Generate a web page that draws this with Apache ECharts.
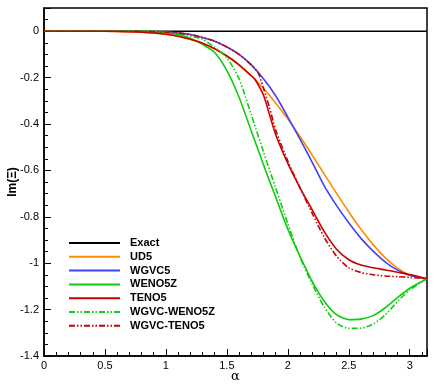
<!DOCTYPE html>
<html>
<head>
<meta charset="utf-8">
<script src="https://cdn.jsdelivr.net/npm/echarts@6/dist/echarts.min.js"></script>
<style>
  html, body { margin: 0; padding: 0; background: #fff; }
  #chart { width: 436px; height: 388px; }
</style>
</head>
<body>
<div id="chart"></div>
<script>
// wavenumber grid (alpha) shared by most schemes
const alpha = [0, 0.4, 0.6, 0.8, 1.0, 1.1, 1.2, 1.3, 1.4, 1.5, 1.6, 1.7, 1.8, 1.9, 2.0, 2.1, 2.2, 2.3, 2.4, 2.5, 2.6, 2.7, 2.8, 2.9, 3.0, 3.1416];

const exactX = [0, 3.1416];
const exactY = [0, 0];

const ud5 = [0, 0, -0.001, -0.004, -0.013, -0.022, -0.035, -0.052, -0.076, -0.107, -0.145, -0.192, -0.246, -0.309, -0.379, -0.454, -0.534, -0.617, -0.699, -0.779, -0.854, -0.920, -0.977, -1.021, -1.051, -1.067];
const wgvc5 = [0, 0, 0, -0.001, -0.004, -0.008, -0.014, -0.027, -0.043, -0.068, -0.100, -0.145, -0.205, -0.278, -0.370, -0.465, -0.565, -0.668, -0.752, -0.826, -0.893, -0.948, -0.995, -1.030, -1.052, -1.067];
const weno5z = [0, 0, 0, 0, -0.006, -0.014, -0.030, -0.057, -0.092, -0.170, -0.285, -0.430, -0.575, -0.715, -0.853, -0.970, -1.078, -1.165, -1.222, -1.243, -1.241, -1.226, -1.192, -1.148, -1.108, -1.067];
const wgvcWeno5z = [0, 0, 0, 0, -0.004, -0.010, -0.020, -0.035, -0.070, -0.115, -0.205, -0.360, -0.520, -0.675, -0.830, -0.975, -1.090, -1.190, -1.258, -1.281, -1.280, -1.262, -1.222, -1.165, -1.115, -1.067];

// TENO schemes have a kink, so they get their own grid
const tenoX = [0, 0.4, 0.6, 0.8, 1.0, 1.1, 1.2, 1.3, 1.4, 1.5, 1.6, 1.7, 1.73, 1.8, 1.85, 1.9, 2.0, 2.1, 2.2, 2.3, 2.4, 2.5, 2.6, 2.7, 2.8, 2.9, 3.0, 3.1416];
const teno5 = [0, 0, -0.001, -0.004, -0.013, -0.022, -0.035, -0.052, -0.076, -0.107, -0.145, -0.192, -0.207, -0.275, -0.360, -0.445, -0.570, -0.675, -0.770, -0.865, -0.940, -0.985, -1.008, -1.020, -1.029, -1.039, -1.049, -1.067];
const wgvcTenoX = [0, 0.4, 0.6, 0.8, 1.0, 1.1, 1.2, 1.3, 1.4, 1.5, 1.6, 1.7, 1.755, 1.8, 1.85, 1.9, 2.0, 2.1, 2.2, 2.3, 2.4, 2.5, 2.6, 2.7, 2.8, 2.9, 3.0, 3.1416];
const wgvcTeno5 = [0, 0, 0, -0.001, -0.004, -0.008, -0.014, -0.027, -0.043, -0.068, -0.100, -0.145, -0.178, -0.245, -0.330, -0.425, -0.560, -0.675, -0.785, -0.890, -0.970, -1.020, -1.040, -1.050, -1.055, -1.058, -1.061, -1.067];

const xTicks = [0, 0.5, 1, 1.5, 2, 2.5, 3];
const yTicks = [-1.4, -1.2, -1, -0.8, -0.6, -0.4, -0.2, 0];

const dashDotDot = [6, 2, 1.5, 2, 1.5, 2];

function pairs(xs, ys) {
  return xs.map((x, i) => [x, ys[i]]);
}

function line(name, xs, ys, color, type) {
  return {
    name: name,
    type: 'line',
    data: pairs(xs, ys),
    showSymbol: false,
    symbol: 'none',
    smooth: 0.25,
    color: color,
    itemStyle: { color: color },
    lineStyle: { color: color, width: 1.6, type: type || 'solid' },
    animation: false
  };
}

const chart = echarts.init(document.getElementById('chart'));
chart.setOption({
  animation: false,
  grid: {
    left: 44, top: 8, right: 9, bottom: 32,
    containLabel: false,
    outerBoundsMode: 'none',
    show: true, borderColor: '#000', borderWidth: 1.5
  },
  legend: {
    orient: 'vertical',
    left: 68,
    top: 237,
    padding: 0,
    itemWidth: 51,
    itemHeight: 10,
    itemGap: 1.8,
    selectedMode: false,
    itemStyle: { opacity: 0 },
    textStyle: { fontFamily: 'Liberation Sans, Arial', fontSize: 11, fontWeight: 'bold', color: '#000', lineHeight: 12, padding: [0, 0, 0, 5] },
    data: ['Exact', 'UD5', 'WGVC5', 'WENO5Z', 'TENO5', 'WGVC-WENO5Z', 'WGVC-TENO5']
  },
  xAxis: {
    type: 'value',
    min: 0,
    max: 3.1416,
    interval: 0.5,
    name: 'α',
    nameLocation: 'middle',
    nameGap: 14,
    nameMoveOverlap: false,
    nameTextStyle: { fontFamily: 'DejaVu Serif, Liberation Serif', fontSize: 13, color: '#000' },
    axisLine: { onZero: false, lineStyle: { color: '#000', width: 1.5 } },
    axisTick: { inside: true, length: 7, lineStyle: { color: '#000', width: 1 } },
    minorTick: { show: true, splitNumber: 5, length: 4, lineStyle: { color: '#000', width: 1 } },
    splitLine: { show: false },
    axisLabel: {
      margin: 4,
      showMaxLabel: false,
      fontFamily: 'Liberation Sans, Arial',
      fontSize: 11,
      color: '#000',
      formatter: v => xTicks.includes(+v.toFixed(2)) ? String(+v.toFixed(2)) : ''
    }
  },
  yAxis: {
    type: 'value',
    min: -1.4,
    max: 0.1,
    interval: 0.2,
    name: 'Im(Ξ)',
    nameLocation: 'middle',
    nameGap: 25,
    nameMoveOverlap: false,
    nameRotate: 90,
    nameTextStyle: { fontFamily: 'Liberation Sans, Arial', fontSize: 12, fontWeight: 'bold', color: '#000' },
    axisLine: { onZero: false, lineStyle: { color: '#000', width: 1.5 } },
    axisTick: { inside: true, length: 7, lineStyle: { color: '#000', width: 1 } },
    minorTick: { show: true, splitNumber: 4, length: 4, lineStyle: { color: '#000', width: 1 } },
    splitLine: { show: false },
    axisLabel: {
      margin: 5,
      showMaxLabel: false,
      fontFamily: 'Liberation Sans, Arial',
      fontSize: 11,
      color: '#000',
      formatter: v => {
        const r = +v.toFixed(2);
        return yTicks.includes(r) ? String(r) : '';
      }
    }
  },
  series: [
    line('Exact', exactX, exactY, '#000000'),
    line('UD5', alpha, ud5, '#ff8c00'),
    line('WGVC5', alpha, wgvc5, '#4040ff'),
    line('WENO5Z', alpha, weno5z, '#11cc11'),
    line('TENO5', tenoX, teno5, '#cc0000'),
    line('WGVC-WENO5Z', alpha, wgvcWeno5z, '#11cc11', dashDotDot),
    line('WGVC-TENO5', wgvcTenoX, wgvcTeno5, '#cc0000', dashDotDot)
  ]
});
</script>
</body>
</html>
